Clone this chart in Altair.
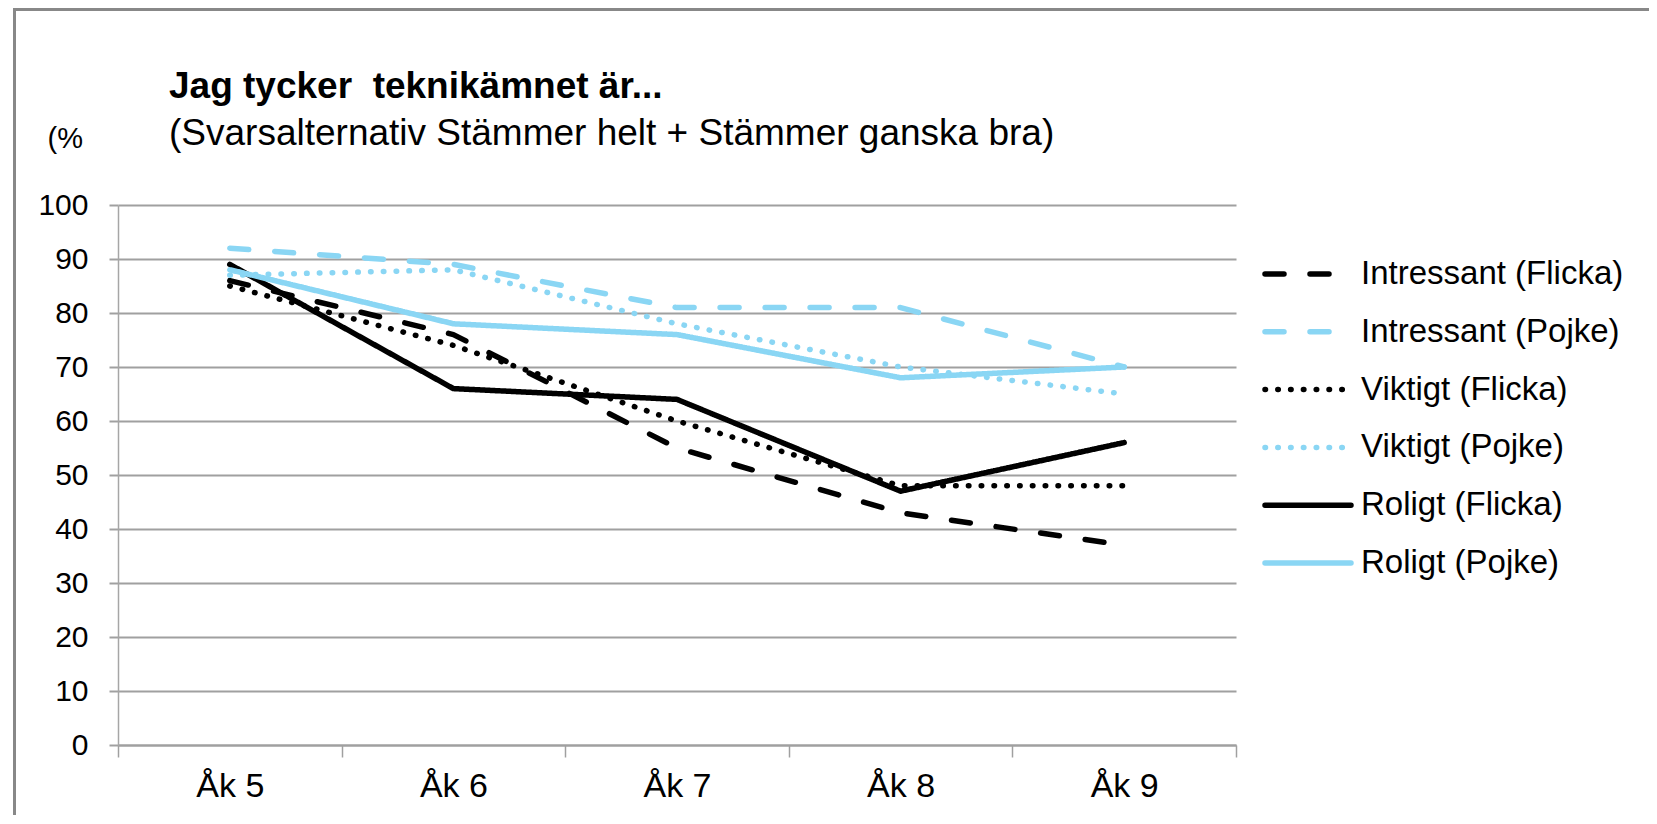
import altair as alt
import pandas as pd

# ---- data ----
grades = ["Åk 5", "Åk 6", "Åk 7", "Åk 8", "Åk 9"]
series_names = [
    "Intressant (Flicka)",
    "Intressant (Pojke)",
    "Viktigt (Flicka)",
    "Viktigt (Pojke)",
    "Roligt (Flicka)",
    "Roligt (Pojke)",
]
intressant_flicka = [86, 76, 55, 43, 37]
intressant_pojke = [92, 89, 81, 81, 70]
viktigt_flicka = [85, 74, 60, 48, 48]
viktigt_pojke = [87, 88, 78, 70, 65]
roligt_flicka = [89, 66, 64, 47, 56]
roligt_pojke = [88, 78, 76, 68, 70]
y_ticks = [0, 10, 20, 30, 40, 50, 60, 70, 80, 90, 100]

title_text = "Jag tycker \u00a0teknikämnet är..."
subtitle_text = "(Svarsalternativ Stämmer helt + Stämmer ganska bra)"
unit_text = "(%"

# ---- styles ----
BLACK = "#000000"
BLUE = "#8ad6f4"
series_colors = [BLACK, BLUE, BLACK, BLUE, BLACK, BLUE]
DASH = [19, 26]
DOT = [0.5, 12.3]
SOLID = [1, 0]
series_dashes = [DASH, DASH, DOT, DOT, SOLID, SOLID]
GRID = "#a0a0a0"
FONT = "Liberation Sans"

values = [intressant_flicka, intressant_pojke, viktigt_flicka,
          viktigt_pojke, roligt_flicka, roligt_pojke]
rows = []
for name, vals in zip(series_names, values):
    for g, v in zip(grades, vals):
        rows.append({"series": name, "grade": g, "value": v})
df = pd.DataFrame(rows)

W, H = 1118, 540

color_enc = alt.Color(
    "series:N", sort=series_names,
    scale=alt.Scale(domain=series_names, range=series_colors), legend=None,
)
dash_enc = alt.StrokeDash(
    "series:N", sort=series_names,
    scale=alt.Scale(domain=series_names, range=series_dashes), legend=None,
)

lines = alt.Chart(df).mark_line(
    strokeWidth=5.5, strokeCap="round", strokeJoin="round"
).encode(
    x=alt.X(
        "grade:N", sort=grades, bandPosition=0.5,
        scale=alt.Scale(type="band", paddingInner=0, paddingOuter=0),
        axis=alt.Axis(
            title=None, labelAngle=0, labelFont=FONT, labelFontSize=34,
            labelColor="#000000", labelBaseline="alphabetic", labelPadding=39,
            tickSize=12, tickWidth=1.5, tickColor=GRID, tickBand="extent",
            domainColor=GRID, domainWidth=2, grid=False,
        ),
    ),
    y=alt.Y(
        "value:Q", scale=alt.Scale(domain=[0, 100], nice=False),
        axis=alt.Axis(
            values=y_ticks, title=unit_text, titleAngle=0, titleX=-71,
            titleY=-58, titleAlign="left", titleBaseline="alphabetic",
            titleFont=FONT, titleFontSize=29, titleFontWeight="normal",
            titleColor="#000000",
            labelFont=FONT, labelFontSize=30, labelColor="#000000",
            labelPadding=21, tickSize=9, tickWidth=2, tickColor=GRID,
            grid=True, gridColor=GRID, gridWidth=2,
            domainColor="#a6a6a6", domainWidth=1.5,
        ),
    ),
    color=color_enc,
    strokeDash=dash_enc,
    detail="series:N",
)

# ---- legend (drawn from the series list) ----
legend_df = pd.DataFrame({"series": series_names})
leg_y = alt.Y(
    "series:N", sort=series_names, axis=None,
    scale=alt.Scale(type="point", domain=series_names, range=[69, 358],
                    padding=0),
)
leg_lines = alt.Chart(legend_df).mark_rule(
    strokeWidth=5.5, strokeCap="round"
).encode(
    x=alt.value(1147), x2=alt.value(1233), y=leg_y,
    color=color_enc, strokeDash=dash_enc,
)
leg_text = alt.Chart(legend_df).mark_text(
    align="left", baseline="middle", font=FONT, fontSize=33, color="#000000"
).encode(x=alt.value(1243), y=leg_y, text="series:N")

# ---- titles & frame ----
title_df = pd.DataFrame({"t": [title_text]})
subtitle_df = pd.DataFrame({"t": [subtitle_text]})

title_mark = alt.Chart(title_df).mark_text(
    align="left", baseline="alphabetic", font=FONT, fontSize=37,
    fontWeight="bold", color="#000000",
).encode(text="t:N", x=alt.value(51), y=alt.value(-107))

subtitle_mark = alt.Chart(subtitle_df).mark_text(
    align="left", baseline="alphabetic", font=FONT, fontSize=37,
    color="#000000",
).encode(text="t:N", x=alt.value(51), y=alt.value(-60))

frame = alt.Chart(title_df).mark_rect(
    fill=None, stroke="#888888", strokeWidth=3
).encode(
    x=alt.value(-103.5), x2=alt.value(W + 600),
    y=alt.value(-195.5), y2=alt.value(H + 300),
)

chart = alt.layer(
    frame, lines, leg_lines, leg_text, title_mark, subtitle_mark
).resolve_scale(y="independent").properties(
    width=W, height=H,
    autosize=alt.AutoSizeParams(type="none"),
    padding={"left": 110, "top": 197, "right": 413, "bottom": 70},
    background="#ffffff",
).configure_view(stroke=None)

chart.save("out.html", embed_options={"renderer": "svg", "actions": False})
